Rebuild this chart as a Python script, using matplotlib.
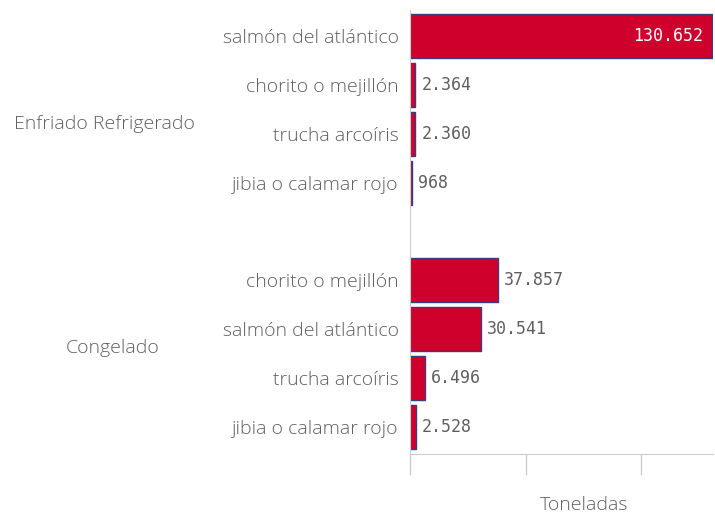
import matplotlib
matplotlib.use('Agg')
from matplotlib import pyplot as plt

# Data.
groups = ['Enfriado Refrigerado', 'Congelado']
species_enfriado = ['salmón del atlántico', 'chorito o mejillón', 'trucha arcoíris', 'jibia o calamar rojo']
values_enfriado = [130652, 2364, 2360, 968]
species_congelado = ['chorito o mejillón', 'salmón del atlántico', 'trucha arcoíris', 'jibia o calamar rojo']
values_congelado = [37857, 30541, 6496, 2528]
x_ticks = [0, 50000, 100000]


def fmt(v):
    return f'{v:,}'.replace(',', '.')


labels = species_enfriado + species_congelado
values = values_enfriado + values_congelado
positions = list(range(len(species_enfriado))) + \
    [len(species_enfriado) + 1 + i for i in range(len(species_congelado))]

text_color = '#5f5f5f'
bar_color = '#d0002c'
edge_color = '#3d3b80'
grid_color = '#cccccc'
label_font = 'Open Sans'
label_size = 14
label_weight = 'light'
value_font = 'DejaVu Sans Mono'
value_size = 12

fig = plt.figure(figsize=(7.15, 5.15), dpi=100)
ax = fig.add_axes([410 / 715, 1 - 454 / 515, 303 / 715, 444 / 515])

ax.barh(positions, values, height=0.9, color=bar_color, edgecolor=edge_color, linewidth=1)
ax.set_ylim(8.55, -0.53)
ax.set_xlim(0, max(values) * 1.002)

ax.set_yticks(positions)
ax.set_yticklabels(labels, fontsize=label_size, color=text_color,
                   fontfamily=label_font, fontweight=label_weight)
ax.tick_params(axis='y', length=0, pad=8)
ax.set_xticks(x_ticks)
ax.set_xticklabels([])
ax.tick_params(axis='x', length=15, color=grid_color, width=1)

for side in ['top', 'right']:
    ax.spines[side].set_visible(False)
for side in ['left', 'bottom']:
    ax.spines[side].set_color(grid_color)

# Value labels
xmax = ax.get_xlim()[1]
for p, v in zip(positions, values):
    if v > 0.5 * xmax:
        ax.text(v - xmax * 0.03, p, fmt(v), ha='right', va='center',
                color='white', fontsize=value_size, fontfamily=value_font)
    else:
        ax.text(v + xmax * 0.02, p, fmt(v), ha='left', va='center',
                color=text_color, fontsize=value_size, fontfamily=value_font)

# Group labels
fig.text(104 / 715, 1 - 124 / 515, groups[0], ha='center', va='center',
         fontsize=label_size, color=text_color, fontfamily=label_font, fontweight=label_weight)
fig.text(113 / 715, 1 - 348 / 515, groups[1], ha='center', va='center',
         fontsize=label_size, color=text_color, fontfamily=label_font, fontweight=label_weight)

fig.text(584 / 715, 1 - 505 / 515, 'Toneladas', ha='center', va='center',
         fontsize=label_size, color=text_color, fontfamily=label_font, fontweight=label_weight)

fig.savefig('out.png', dpi=100)
